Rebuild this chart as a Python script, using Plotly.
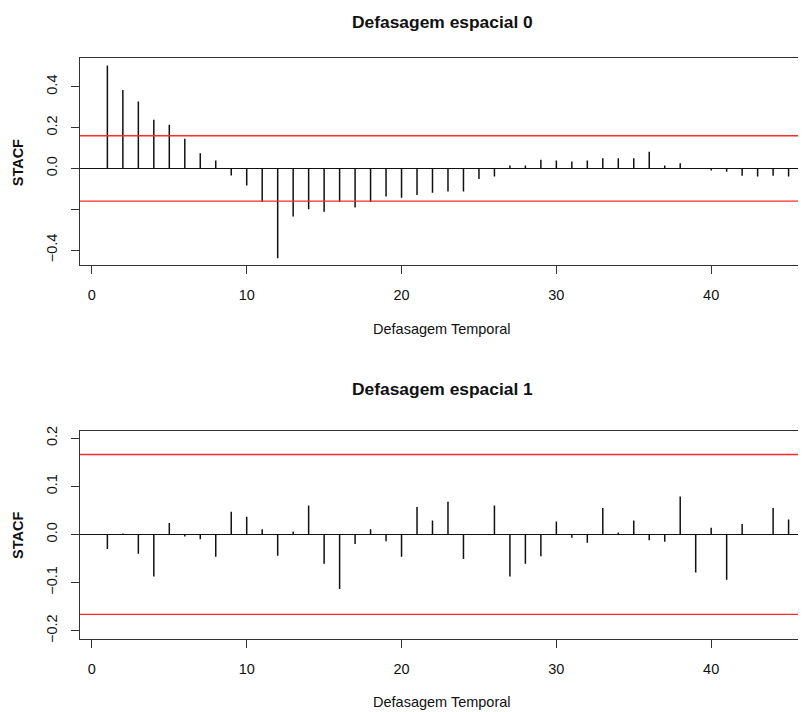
import plotly.graph_objects as go

# ---- data ----
lags = list(range(1, 46))
stacf_lag0 = [0.504, 0.384, 0.328, 0.238, 0.214, 0.146, 0.074, 0.039, -0.034, -0.084,
              -0.164, -0.440, -0.235, -0.200, -0.212, -0.164, -0.191, -0.164, -0.138, -0.143,
              -0.130, -0.119, -0.113, -0.113, -0.052, -0.039, 0.014, 0.014, 0.043, 0.039,
              0.034, 0.039, 0.050, 0.050, 0.050, 0.082, 0.014, 0.026, 0.002, -0.010,
              -0.016, -0.036, -0.040, -0.036, -0.040]
stacf_lag1 = [-0.030, 0.002, -0.040, -0.087, 0.024, -0.004, -0.010, -0.046, 0.047, 0.037,
              0.011, -0.044, 0.006, 0.060, -0.061, -0.113, -0.020, 0.011, -0.014, -0.046,
              0.057, 0.029, 0.068, -0.051, 0.001, 0.060, -0.087, -0.061, -0.045, 0.027,
              -0.007, -0.017, 0.055, 0.004, 0.029, -0.012, -0.015, 0.079, -0.079, 0.014,
              -0.094, 0.022, 0.001, 0.055, 0.031]
conf_lag0 = 0.160
conf_lag1 = 0.166

titles = ["Defasagem espacial 0", "Defasagem espacial 1"]
x_title = "Defasagem Temporal"
y_title = "STACF"
x_ticks = [0, 10, 20, 30, 40]
y_ticks0 = [-0.4, -0.2, 0.0, 0.2, 0.4]
y_ticklabels0 = ["\u22120.4", "", "0.0", "0.2", "0.4"]
y_ticks1 = [-0.2, -0.1, 0.0, 0.1, 0.2]
y_ticklabels1 = ["\u22120.2", "\u22120.1", "0.0", "0.1", "0.2"]

# ---- layout geometry (page has an 8px body margin) ----
OFF = 8
W, H = 806 - OFF, 712 - OFF
FONT = "Liberation Sans, Arial, sans-serif"


def px(x):
    return (x - OFF) / W


def py(y):
    return 1 - (y - OFF) / H


def stems(xs, ys):
    sx, sy = [], []
    for x, y in zip(xs, ys):
        sx += [x, x, None]
        sy += [0, y, None]
    return sx, sy


fig = go.Figure()
for i, vals in enumerate([stacf_lag0, stacf_lag1]):
    sx, sy = stems(lags, vals)
    fig.add_trace(go.Scatter(x=sx, y=sy, mode="lines",
                             line=dict(color="#111111", width=1.5),
                             xaxis="x" if i == 0 else "x2",
                             yaxis="y" if i == 0 else "y2",
                             showlegend=False, hoverinfo="skip"))

xdom = [px(80), 1.0]
ydom0 = [py(263.3), py(53.3)]
ydom1 = [py(641.7), py(431)]

axis_common = dict(showline=True, mirror=True, linecolor="#333333", linewidth=1,
                   ticks="outside", ticklen=8, tickcolor="#333333", tickwidth=1,
                   showgrid=False, tickfont=dict(family=FONT, size=14.5, color="#111111"))

fig.update_layout(
    width=W, height=H,
    margin=dict(l=0, r=0, t=0, b=0),
    paper_bgcolor="white", plot_bgcolor="white",
    font=dict(family=FONT, color="#111111"),
    xaxis=dict(domain=xdom, anchor="y", range=[-0.774, 46.06],
               tickvals=x_ticks, zeroline=False, ticklabelstandoff=8, **axis_common),
    yaxis=dict(domain=ydom0, anchor="x", range=[-0.475, 0.542],
               tickvals=y_ticks0, ticktext=y_ticklabels0, tickangle=-90,
               zeroline=True, zerolinecolor="#111111", zerolinewidth=1,
               ticklabelstandoff=8, **axis_common),
    xaxis2=dict(domain=xdom, anchor="y2", range=[-0.774, 46.06],
                tickvals=x_ticks, zeroline=False, ticklabelstandoff=8, **axis_common),
    yaxis2=dict(domain=ydom1, anchor="x2", range=[-0.218, 0.2144],
                tickvals=y_ticks1, ticktext=y_ticklabels1, tickangle=-90,
                zeroline=True, zerolinecolor="#111111", zerolinewidth=1,
                ticklabelstandoff=8, **axis_common),
)

# confidence lines
for yref, xref, c in [("y", "x", conf_lag0), ("y2", "x2", conf_lag1)]:
    for v in (c, -c):
        fig.add_shape(type="line", xref=f"{xref} domain", yref=yref,
                      x0=0, x1=1, y0=v, y1=v,
                      line=dict(color="#ff2a2a", width=1.3))

# titles & labels (positions in reference screen pixels)
xc = px((80 + 806) / 2)
annots = [
    (titles[0], xc, py(17), 17.4, True, 0),
    (titles[1], xc, py(388), 17.4, True, 0),
    (x_title, xc, py(328), 14.5, False, 0),
    (x_title, xc, py(705), 14.5, False, 0),
    (y_title, px(18), py(159), 14.5, True, -90),
    (y_title, px(18), py(536), 14.5, True, -90),
]
for txt, x, y, size, bold, ang in annots:
    fig.add_annotation(text=f"<b>{txt}</b>" if bold else txt, x=x, y=y,
                       xref="paper", yref="paper", showarrow=False,
                       xanchor="center", yanchor="middle", textangle=ang,
                       font=dict(family=FONT, size=size, color="#111111"))

fig.write_html("out.html")
